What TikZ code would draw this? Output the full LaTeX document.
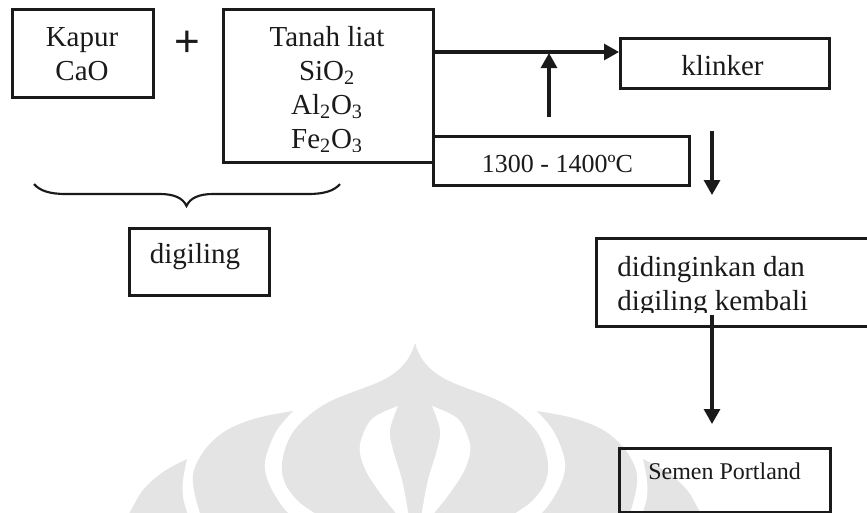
\documentclass[tikz,border=0pt]{standalone}
\usepackage{fontspec}
\setmainfont{Liberation Serif}
\newfontfamily\plusfont{Liberation Sans}
\usetikzlibrary{arrows.meta}
\definecolor{wm}{HTML}{E4E4E4}
\definecolor{ink}{HTML}{1A1A1A}
\newcommand{\sbs}[1]{\textsubscript{#1}}
\newcommand{\wmhalf}{%
  % centre tulip, left half
  \fill[wm] plot[smooth,tension=.6] coordinates {(415,344)(405,363)(383,380)(333,400)(307,417)(290,437)(282,463)(285,483)(297,500)(313,512)(335,525)} -- (415.5,525) -- (415.5,344) -- cycle;
  % hole of the tulip
  \fill[white] plot[smooth,tension=.6] coordinates {(398,406)(373,418)(362,437)(360,453)(367,473)(383,497)(395,512)(402,525)} -- plot[smooth,tension=.6] coordinates {(409,525)(408,512)(402,480)(393,450)(390,430)(398,406)} -- cycle;
  % middle petal
  \fill[wm] plot[smooth,tension=.6] coordinates {(293,411)(257,418)(227,430)(207,447)(195,467)(193,483)(197,503)(204,525)} -- plot[smooth,tension=.6] coordinates {(305,525)(287,512)(272,490)(265,470)(267,453)(277,430)(293,411)} -- cycle;
  % outer petal
  \fill[wm] plot[smooth,tension=.6] coordinates {(187,459)(163,472)(143,490)(130,512)(122,525)} -- plot[smooth,tension=.6] coordinates {(191,525)(187,512)(183,497)(183,480)(187,459)} -- cycle;
}
\tikzset{
  x=0.75pt,y=-0.75pt,
  boxed/.style={draw=ink,line width=2.1pt,minimum width=#1,inner sep=0pt,anchor=north west},
  lab/.style={text=ink,inner sep=0pt,anchor=base,font=\fontsize{21.75pt}{25.5pt}\selectfont,align=center},
  flow/.style={draw=ink,line width=2.3pt,-{Triangle[length=11.25pt,width=12pt]}},
}
\begin{document}
\begin{tikzpicture}
\useasboundingbox (0,0) rectangle (867,512);
\clip (0,0) rectangle (867,512);
% watermark
\wmhalf
\begin{scope}[xshift=622.5pt,xscale=-1]
\wmhalf
\end{scope}
% boxes
\node[boxed=105.75pt,minimum height=66pt] (kapur) at (11,8) {};
\node[boxed=157.5pt,minimum height=114.75pt] (tanah) at (222,8) {};
\node[boxed=192pt,minimum height=36.75pt] (suhu) at (432,135) {};
\node[boxed=156.75pt,minimum height=37.5pt] (klinker) at (619,37) {};
\node[boxed=105pt,minimum height=50.25pt] (giling) at (128,227) {};
\node[boxed=240pt,minimum height=66pt] (dingin) at (595,237) {};
\node[boxed=158.25pt,minimum height=48pt] (semen) at (618,447) {};
% labels
\node[lab] (kapurT) at (82,80) {Kapur\\CaO};
\node[lab,font=\plusfont\fontsize{33pt}{33pt}\selectfont] (plus) at (187.5,56) {+};
\begin{scope}
\clip (222,8) rectangle (432,151);
\node[lab] (tanahT) at (327,148) {Tanah liat\\SiO\sbs{2}\\Al\sbs{2}O\sbs{3}\\Fe\sbs{2}O\sbs{3}};
\end{scope}
\node[lab,font=\fontsize{19.5pt}{24pt}\selectfont] (suhuT) at (557.5,172) {1300 - 1400ºC};
\node[lab] (klinkerT) at (722.5,75) {klinker};
\node[lab] (gilingT) at (195,263) {digiling};
\begin{scope}
\clip (595,237) rectangle (867,312);
\node[lab,align=left,anchor=base west] (dinginT) at (617,310) {didinginkan dan\\digiling kembali};
\end{scope}
\node[lab,anchor=base west,font=\fontsize{18pt}{22pt}\selectfont] (semenT) at (648,479) {Semen Portland};
% brace
\coordinate (braceL) at (34,184);
\coordinate (braceR) at (340,184);
\coordinate (braceTip) at (186.5,206);
\draw[draw=ink,line width=1.6pt]
  (braceL) .. controls (40,191) and (50,194) .. (66,194) -- (160,194)
  .. controls (174,194) and (183,198) .. (braceTip)
  .. controls (190,198) and (199,194) .. (213,194) -- (308,194)
  .. controls (324,194) and (334,191) .. (braceR);
% connectors
\coordinate (mainS) at (433,52);
\coordinate (mainE) at (619,52);
\coordinate (upS) at (549,117);
\coordinate (upE) at (549,53);
\coordinate (downS) at (712,131);
\coordinate (downE) at (712,195);
\coordinate (lastS) at (712,315);
\coordinate (lastE) at (712,424);
\draw[flow] (mainS) -- (mainE);
\draw[flow] (upS) -- (upE);
\draw[flow] (downS) -- (downE);
\draw[flow] (lastS) -- (lastE);
\end{tikzpicture}
\end{document}
